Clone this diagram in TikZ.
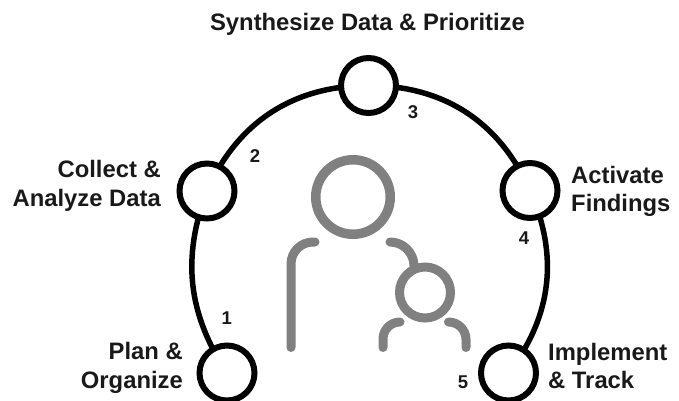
\documentclass[tikz,border=0pt]{standalone}
\usepackage{fontspec}
\setmainfont{Liberation Sans}
\tikzset{
 stage/.style={circle,draw=black,line width=6pt,fill=white,minimum size=55pt,inner sep=0pt},
 link/.style={draw=black,line width=5.5pt},
 lab/.style={font=\bfseries\fontsize{23.8}{28.5}\selectfont,text=black!90,inner sep=0pt},
 num/.style={font=\bfseries\fontsize{18.5}{20}\selectfont,text=black!90,inner sep=0pt},
 fig/.style={draw=black!50,line cap=round,line width=9pt},
 fighead/.style={circle,draw=black!50,inner sep=0pt}
}
\begin{document}
\begin{tikzpicture}[x=1pt,y=-1pt]
\useasboundingbox (0,0) rectangle (679,400);
\coordinate (a1) at (227,373);
\coordinate (a2) at (207,191);
\coordinate (a3) at (368.5,85.5);
\coordinate (a4) at (530,190.5);
\coordinate (a5) at (508.5,373);
\draw[link] (a1) to[bend left=27] (a2);
\draw[link] (a2) to[bend left=33] (a3);
\draw[link] (a3) to[bend left=33] (a4);
\draw[link] (a4) to[bend left=30.5] (a5);
\node[stage] (s1) at (a1) {};
\node[stage] (s2) at (a2) {};
\node[stage] (s3) at (a3) {};
\node[stage] (s4) at (a4) {};
\node[stage] (s5) at (a5) {};
\node[lab,anchor=center] (t3) at (367.5,24) {Synthesize Data \& Prioritize};
\node[lab,align=right,anchor=east] (t2) at (161,186) {Collect \&\\Analyze Data};
\node[lab,align=left,anchor=west] (t4) at (571,191.5) {Activate\\Findings};
\node[lab,align=right,anchor=east] (t1) at (183,368) {Plan \&\\Organize};
\node[lab,align=left,anchor=west] (t5) at (548,366) {Implement\\\& Track};
\node[num] (n1) at (226.7,317.7) {1};
\node[num] (n2) at (255,156) {2};
\node[num] (n3) at (413,111.7) {3};
\node[num] (n4) at (524,238) {4};
\node[num] (n5) at (463,382.7) {5};
\node[fighead,line width=9.5pt,minimum size=74.5pt] (head) at (353,197) {};
\node[fighead,line width=9pt,minimum size=51pt] (khead) at (425,292.5) {};
\draw[fig] (291,347.5) -- (291,264) arc (180:270:22) -- (315,242);
\draw[fig] (390,242) arc (270:359:24);
\draw[fig] (383,347.5) -- (383,339) arc (180:270:17);
\draw[fig] (448.5,322) arc (270:360:17.5) -- (466,347.5);
\end{tikzpicture}
\end{document}
